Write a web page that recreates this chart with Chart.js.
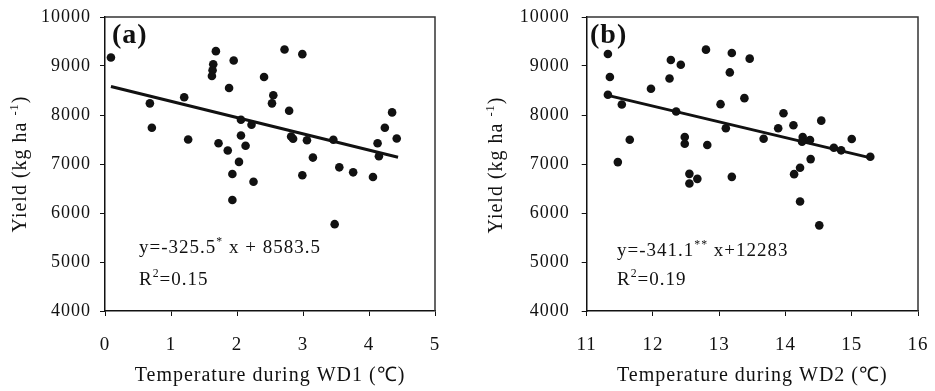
<!DOCTYPE html>
<html><head><meta charset="utf-8">
<script src="https://cdn.jsdelivr.net/npm/chart.js@4"></script>
<style>
html,body{margin:0;padding:0;background:#fff;}
#wrap{position:relative;width:935px;height:391px;overflow:hidden;background:#fff;}
canvas{position:absolute;top:0;}
</style></head><body>
<div id="wrap">
<canvas id="ca" width="467" height="391" style="left:0px"></canvas>
<canvas id="cb" width="468" height="391" style="left:467px"></canvas>
</div>
<script>
// ---- data ----
const wd1Temp = [0.09,1.68,1.95,1.64,1.63,1.62,2.41,1.88,1.20,0.68,2.06,2.22,0.71,2.06,1.26,1.72,2.13,1.86,2.03,1.93,2.25,1.93,2.72,2.99,2.55,2.53,2.79,4.35,4.24,2.82,2.85,3.06,3.46,4.42,4.13,4.15,3.15,2.99,3.55,3.76,4.06,3.48];
const wd1Yield = [9174,9303,9113,9037,8914,8797,8777,8551,8361,8238,7904,7801,7740,7582,7500,7424,7371,7275,7043,6797,6639,6264,9338,9242,8402,8238,8088,8053,7740,7561,7514,7486,7494,7520,7424,7158,7131,6769,6932,6830,6736,5772];
const wd2Temp = [11.32,11.35,11.32,11.53,11.65,11.47,11.97,12.27,12.25,12.42,12.35,12.48,12.48,12.80,12.82,13.02,13.10,13.19,13.16,12.55,12.55,12.67,13.19,13.46,13.38,13.67,13.97,13.89,14.12,14.54,14.26,14.25,14.37,15.00,14.73,14.84,15.28,14.38,14.22,14.13,14.22,14.51];
const wd2Yield = [9246,8775,8412,8213,7496,7039,8535,9123,8746,9027,8070,7551,7414,9334,7387,8221,7729,9266,8869,6799,6602,6697,6738,9150,8344,7516,8037,7729,7791,7885,7551,7455,7490,7510,7332,7279,7148,7100,6922,6793,6234,5748];
const fitA_x = [0.09, 4.44];
const fitA_y = [8580, 7137];
const fitB_x = [11.35, 15.27];
const fitB_y = [8390, 7130];
const yRange = [4000, 10000];
const xRangeA = [0, 5];
const xRangeB = [11, 16];
const tickStep = {x: 1, y: 1000};
const xTitleA = 'Temperature during WD1 (℃)';
const xTitleB = 'Temperature during WD2 (℃)';
const yTitleParts = [{t:'Yield (kg ha '},{t:'-1',sup:true},{t:')'}];
const eqA = [{t:'y=-325.5'},{t:'*',sup:true},{t:' x + 8583.5'}];
const r2A = [{t:'R'},{t:'2',sup:true},{t:'=0.15'}];
const eqB = [{t:'y=-341.1'},{t:'**',sup:true},{t:' x+12283'}];
const r2B = [{t:'R'},{t:'2',sup:true},{t:'=0.19'}];

const SERIF = "'Liberation Serif','Times New Roman',serif";
const INK = '#111';

function drawRich(ctx, x, y, parts, size) {
  let cx = x;
  for (const p of parts) {
    const fs = p.sup ? size * 0.62 : size;
    ctx.font = fs + 'px ' + SERIF;
    ctx.fillText(p.t, cx, y + (p.sup ? -size * 0.4 : 0));
    cx += ctx.measureText(p.t).width;
  }
  return cx - x;
}
function richWidth(ctx, parts, size) {
  let w = 0;
  for (const p of parts) {
    ctx.font = (p.sup ? size * 0.62 : size) + 'px ' + SERIF;
    w += ctx.measureText(p.t).width;
  }
  return w;
}

const deco = {
  id: 'deco',
  beforeDraw(chart) { chart.ctx.letterSpacing = '1px'; },
  afterDraw(chart, args, o) {
    const ctx = chart.ctx, a = chart.chartArea;
    ctx.save();
    ctx.letterSpacing = '1px';
    ctx.strokeStyle = '#333';
    ctx.lineWidth = 1.5;
    ctx.beginPath();
    ctx.moveTo(a.left, a.top); ctx.lineTo(a.right, a.top); ctx.lineTo(a.right, a.bottom);
    ctx.stroke();
    ctx.fillStyle = INK;
    ctx.textAlign = 'left';
    ctx.textBaseline = 'alphabetic';
    ctx.font = 'bold 28px ' + SERIF;
    ctx.fillText(o.label, o.labelX, 43);
    drawRich(ctx, o.eqX, o.eqY, o.eq, 19);
    drawRich(ctx, o.eqX, o.r2Y, o.r2, 19);
    ctx.save();
    ctx.translate(o.yTitleX, o.yTitleY);
    ctx.rotate(-Math.PI / 2);
    const w = richWidth(ctx, yTitleParts, 20);
    drawRich(ctx, -w / 2, 0, yTitleParts, 20);
    ctx.restore();
    ctx.restore();
  }
};

function zeroPad(s) { s.paddingLeft = 0; s.paddingRight = 0; s.paddingTop = 0; s.paddingBottom = 0; }

function makeChart(id, xs, ys, fx, fy, xr, xTitle, yAxisW, padRight, decoOpts) {
  const pts = xs.map((x, i) => ({x: x, y: ys[i]}));
  const fit = fx.map((x, i) => ({x: x, y: fy[i]}));
  return new Chart(document.getElementById(id), {
    type: 'scatter',
    data: {
      datasets: [
        {type: 'scatter', data: pts, pointRadius: 4.3, pointHoverRadius: 4.3, backgroundColor: INK, borderWidth: 0},
        {type: 'line', data: fit, borderColor: INK, borderWidth: 3, pointRadius: 0, fill: false, tension: 0}
      ]
    },
    options: {
      responsive: false,
      animation: false,
      events: [],
      layout: {padding: {left: 0, top: 17, right: padRight, bottom: 0}},
      plugins: {legend: {display: false}, tooltip: {enabled: false}, deco: decoOpts},
      scales: {
        x: {
          type: 'linear', min: xr[0], max: xr[1],
          afterFit(s) { s.height = 80; zeroPad(s); },
          ticks: {stepSize: tickStep.x, color: INK, font: {family: SERIF, size: 19}, padding: 18, maxRotation: 0,
                  callback: v => String(v)},
          grid: {drawOnChartArea: false, drawTicks: true, tickLength: 5, color: INK, lineWidth: 1},
          border: {display: true, color: INK, width: 1.5},
          title: {display: true, text: xTitle, color: INK, font: {family: SERIF, size: 20}, padding: {top: 0, bottom: 3}}
        },
        y: {
          type: 'linear', min: yRange[0], max: yRange[1],
          afterFit(s) { s.width = yAxisW; zeroPad(s); },
          ticks: {stepSize: tickStep.y, color: INK, font: {family: SERIF, size: 18}, padding: decoOpts.yTickPad,
                  callback: v => String(v)},
          grid: {drawOnChartArea: false, drawTicks: true, tickLength: 5, color: INK, lineWidth: 1},
          border: {display: true, color: INK, width: 1.5}
        }
      }
    },
    plugins: [deco]
  });
}

makeChart('ca', wd1Temp, wd1Yield, fitA_x, fitA_y, xRangeA, xTitleA, 105, 32,
  {label: '(a)', labelX: 112, eq: eqA, r2: r2A, eqX: 139, eqY: 253, r2Y: 285, yTitleX: 26, yTitleY: 164, yTickPad: 9});
makeChart('cb', wd2Temp, wd2Yield, fitB_x, fitB_y, xRangeB, xTitleB, 119.7, 17,
  {label: '(b)', labelX: 123, eq: eqB, r2: r2B, eqX: 150, eqY: 256, r2Y: 285, yTitleX: 35, yTitleY: 165, yTickPad: 12});
</script>
</body></html>
